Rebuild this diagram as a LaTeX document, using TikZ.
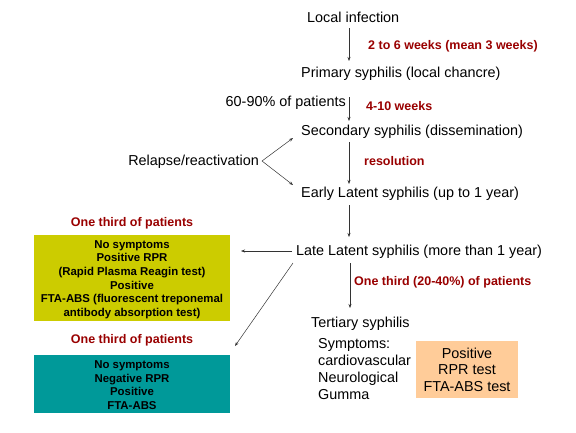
\documentclass[tikz,border=0pt]{standalone}
\usepackage{fontspec}
\setmainfont{Liberation Sans}
\usetikzlibrary{arrows.meta}
\definecolor{lbl}{RGB}{153,0,0}
\definecolor{ybox}{RGB}{204,204,0}
\definecolor{tbox}{RGB}{0,153,153}
\definecolor{pbox}{RGB}{255,204,153}
\begin{document}
\begin{tikzpicture}[x=1pt,y=-1pt,
  stage/.style={anchor=west,inner sep=0pt,font=\fontsize{14.4}{16}\selectfont},
  red/.style={anchor=west,inner sep=0pt,text=lbl,font=\bfseries\fontsize{12.5}{14}\selectfont},
  redc/.style={inner sep=0pt,text=lbl,font=\bfseries\fontsize{12.5}{14}\selectfont},
  boxtxt/.style={inner sep=0pt,align=center,font=\bfseries\fontsize{11.4}{13.6}\selectfont},
  arr/.style={-{Stealth[length=4pt,width=3pt]},line width=0.5pt,black!80}]
\useasboundingbox (0,0) rectangle (576,432);
\node[stage] (li) at (307,17) {Local infection};
\node[stage] (ps) at (301,74) {Primary syphilis (local chancre)};
\node[stage] (ss) at (301,132) {Secondary syphilis (dissemination)};
\node[stage] (el) at (301,194) {Early Latent syphilis (up to 1 year)};
\node[stage] (ll) at (296,252) {Late Latent syphilis (more than 1 year)};
\node[stage] (ts) at (311,324) {Tertiary syphilis};
\node[stage,anchor=east] (pct) at (346,103) {60-90\% of patients};
\node[stage,anchor=east] (rr) at (259,162) {Relapse/reactivation};
\node[stage,anchor=north west,align=left,font=\fontsize{14.4}{17}\selectfont] (sym) at (318,338) {Symptoms:\\cardiovascular\\Neurological\\Gumma};
\node[red] (l1) at (368,46) {2 to 6 weeks (mean 3 weeks)};
\node[red] (l2) at (366,106) {4-10 weeks};
\node[red] (l3) at (364,161) {resolution};
\node[red] (l4) at (354,282) {One third (20-40\%) of patients};
\node[redc] (o1) at (132,223) {One third of patients};
\node[redc] (o2) at (132,340) {One third of patients};
\node[fill=ybox,minimum width=196pt,minimum height=86pt,inner sep=0pt] (yb) at (132,278) {};
\node[boxtxt] (ybt) at ([yshift=-1.5pt]yb.center) {No symptoms\\Positive RPR\\(Rapid Plasma Reagin test)\\Positive\\FTA-ABS (fluorescent treponemal\\antibody absorption test)};
\node[fill=tbox,minimum width=196pt,minimum height=58pt,inner sep=0pt] (tb) at (132,384) {};
\node[boxtxt] (tbt) at ([yshift=-1pt]tb.center) {No symptoms\\Negative RPR\\Positive\\FTA-ABS};
\node[fill=pbox,minimum width=102pt,minimum height=57pt,inner sep=0pt,align=center,font=\fontsize{14.4}{16.5}\selectfont] (pb) at (467,369.5) {Positive\\RPR test\\FTA-ABS test};
\coordinate (a1s) at (349,28); \coordinate (a1e) at (349,61);
\coordinate (a2s) at (349,97); \coordinate (a2e) at (349,121);
\coordinate (a3s) at (349,142); \coordinate (a3e) at (349,184);
\coordinate (a4s) at (349,205); \coordinate (a4e) at (349,237);
\coordinate (a5s) at (350,263); \coordinate (a5e) at (350,308);
\coordinate (r0) at (262,161); \coordinate (r1) at (293,138); \coordinate (r2) at (293,185);
\coordinate (h0) at (292,251); \coordinate (h1) at (241,251);
\coordinate (d0) at (293,263); \coordinate (d1) at (235,346);
\draw[arr] (a1s) -- (a1e);
\draw[arr] (a2s) -- (a2e);
\draw[arr] (a3s) -- (a3e);
\draw[arr] (a4s) -- (a4e);
\draw[arr] (a5s) -- (a5e);
\draw[arr] (r0) -- (r1);
\draw[arr] (r0) -- (r2);
\draw[arr] (h0) -- (h1);
\draw[arr] (d0) -- (d1);
\end{tikzpicture}
\end{document}
